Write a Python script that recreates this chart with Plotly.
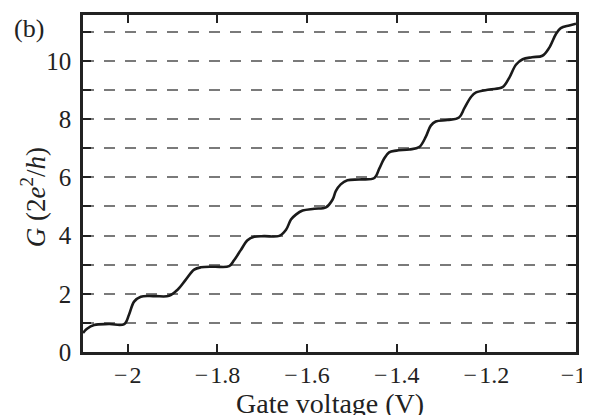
import plotly.graph_objects as go

# Gate voltage (V) and conductance G (2e^2/h)
gate_voltage = [-2.1, -2.091, -2.075, -2.042, -2.008, -1.997, -1.986, -1.971, -1.941, -1.908,
                -1.889, -1.871, -1.852, -1.837, -1.807, -1.774, -1.763, -1.748, -1.733, -1.718,
                -1.696, -1.662, -1.647, -1.636, -1.625, -1.610, -1.584, -1.558, -1.543, -1.536,
                -1.525, -1.510, -1.484, -1.450, -1.439, -1.428, -1.417, -1.401, -1.372, -1.350,
                -1.335, -1.324, -1.313, -1.287, -1.261, -1.249, -1.234, -1.223, -1.193, -1.164,
                -1.149, -1.134, -1.119, -1.098, -1.075, -1.060, -1.045, -1.034, -1.015, -1.0]
conductance = [0.65, 0.80, 0.93, 0.96, 0.96, 1.30, 1.73, 1.90, 1.92, 1.93,
               2.14, 2.48, 2.83, 2.91, 2.93, 2.95, 3.15, 3.50, 3.84, 3.96,
               3.98, 3.99, 4.20, 4.55, 4.72, 4.86, 4.92, 4.97, 5.24, 5.53,
               5.76, 5.90, 5.93, 5.98, 6.30, 6.65, 6.86, 6.92, 6.96, 7.04,
               7.40, 7.78, 7.92, 7.97, 8.06, 8.38, 8.77, 8.92, 9.02, 9.10,
               9.42, 9.87, 10.06, 10.13, 10.18, 10.45, 10.92, 11.13, 11.22, 11.28]

x_ticks = [-2, -1.8, -1.6, -1.4, -1.2, -1]
x_tick_text = ["−\u200a2", "−\u200a1.8", "−\u200a1.6", "−\u200a1.4", "−\u200a1.2", "−1\u2009"]
y_ticks = [0, 2, 4, 6, 8, 10]

FONT = "Liberation Serif"
INK = "#222"

fig = go.Figure()
fig.add_trace(go.Scatter(
    x=gate_voltage, y=conductance, mode="lines",
    line=dict(color="#1a1a1a", width=2.6, shape="spline", smoothing=1.0),
    showlegend=False, hoverinfo="skip"))

# the page body adds an 8px offset, so the figure is 8px smaller than the window
fig.update_layout(
    width=582, height=407,
    margin=dict(l=75, r=14, t=7, b=63, autoexpand=False),
    paper_bgcolor="white", plot_bgcolor="white",
    font=dict(family=FONT, size=25, color=INK),
    xaxis=dict(
        range=[-2.1, -1], tickvals=x_ticks, ticktext=x_tick_text,
        ticks="inside", ticklen=8, tickwidth=2, tickcolor=INK,
        showline=True, linecolor=INK, linewidth=2.5, mirror="ticks",
        showgrid=False, zeroline=False, automargin=False,
        ticklabelstandoff=-1, ticklabeloverflow="allow",
        tickfont=dict(family=FONT, size=24, color=INK),
    ),
    yaxis=dict(
        range=[0, 11.58], tickvals=y_ticks,
        ticks="inside", ticklen=8, tickwidth=2, tickcolor=INK,
        showline=True, linecolor=INK, linewidth=2.5, mirror="ticks",
        showgrid=True, gridcolor="#7a7a7a", gridwidth=1.6, griddash="11px,10px",
        zeroline=False, automargin=False,
        ticklabelstandoff=4,
        tickfont=dict(family=FONT, size=25, color=INK),
        minor=dict(dtick=1, ticks="inside", ticklen=8, tickwidth=2, tickcolor=INK,
                   showgrid=True, gridcolor="#7a7a7a", gridwidth=1.6, griddash="11px,10px"),
    ),
    annotations=[
        dict(text="(b)", xref="paper", yref="paper", x=-0.145, y=0.96,
             xanchor="left", yanchor="middle", showarrow=False,
             font=dict(family=FONT, size=26, color=INK)),
        dict(text="Gate voltage (V)", xref="paper", yref="paper", x=0.5, y=-0.1,
             xanchor="center", yanchor="top", showarrow=False,
             font=dict(family=FONT, size=28, color=INK)),
        dict(text="<i>G</i> (2<i>e</i><sup>2</sup>/<i>h</i>)", xref="paper", yref="paper",
             x=-0.101, y=0.46, xanchor="center", yanchor="middle", textangle=-90,
             showarrow=False, font=dict(family=FONT, size=27, color=INK)),
    ],
)

fig.write_html("out.html")
